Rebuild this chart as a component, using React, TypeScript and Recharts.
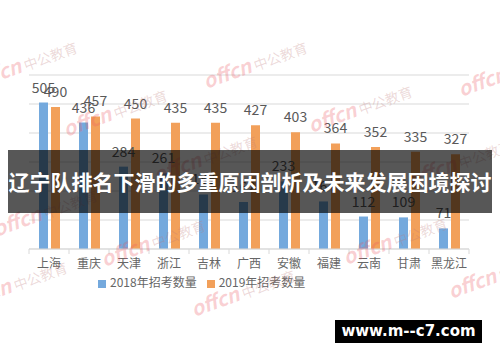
import {
  Bar,
  BarChart,
  CartesianGrid,
  LabelList,
  Legend,
  XAxis,
  YAxis,
} from "recharts";

const categories = ["上海", "重庆", "天津", "浙江", "吉林", "广西", "安徽", "福建", "云南", "甘肃", "黑龙江"];
const count2018 = [505, 436, 284, 261, 188, 162, 233, 164, 112, 109, 71];
const count2019 = [490, 457, 450, 435, 435, 427, 403, 364, 352, 335, 327];
const yTicks = [0, 100, 200, 300, 400, 500, 600];

const seriesNames = ["2018年招考数量", "2019年招考数量"];
const title = "辽宁队排名下滑的多重原因剖析及未来发展困境探讨";

const data = categories.map((name, i) => ({
  name,
  y2018: count2018[i],
  y2019: count2019[i],
}));

const FONT = '"Noto Sans CJK SC", "Liberation Sans", sans-serif';

// watermark spots (decorative)
const marks = [
  { left: -30, top: 48 },
  { left: 60, top: 96 },
  { left: 200, top: 48 },
  { left: 305, top: 92 },
  { left: 455, top: 56 },
  { left: 150, top: 142 },
  { left: 405, top: 146 },
  { left: -10, top: 196 },
  { left: 98, top: 226 },
  { left: 340, top: 224 },
  { left: 188, top: 276 },
  { left: 445, top: 258 },
  { left: -40, top: 268 },
];

function CategoryTick(props: any) {
  const { x, y, payload, index } = props;
  const half = payload.offset ?? 0;
  const axisY = y - 10;
  return (
    <g>
      <line x1={x - half} x2={x - half} y1={axisY} y2={axisY + 5} stroke="#d9d9d9" />
      {index === categories.length - 1 && (
        <line x1={x + half} x2={x + half} y1={axisY} y2={axisY + 5} stroke="#d9d9d9" />
      )}
      <text x={x} y={y} dy="0.71em" textAnchor="middle" fontSize={12} fill="#666" fontFamily={FONT}>
        {payload.value}
      </text>
    </g>
  );
}

export default function App() {
  return (
    <div
      style={{
        position: "absolute",
        left: 0,
        top: 0,
        width: 500,
        height: 362,
        background: "#fff",
        overflow: "hidden",
        fontFamily: FONT,
      }}
    >
      <BarChart
        width={500}
        height={362}
        data={data}
        margin={{ top: 75, right: 31, left: 29, bottom: 72 }}
        barSize={9}
        barGap={3}
      >
        <CartesianGrid horizontal vertical={false} stroke="#d9d9d9" />
        <YAxis hide domain={[0, 600]} ticks={yTicks} />
        <XAxis
          dataKey="name"
          height={24}
          axisLine={{ stroke: "#d9d9d9" }}
          tickLine={false}
          tickSize={0}
          tickMargin={10}
          interval={0}
          tick={<CategoryTick />}
        />
        <Legend
          verticalAlign="bottom"
          align="left"
          iconType="square"
          iconSize={8}
          wrapperStyle={{ left: 98, fontSize: 12, fontFamily: FONT }}
          formatter={(value) => <span style={{ color: "#666" }}>{value}</span>}
        />
        <Bar dataKey="y2018" name={seriesNames[0]} fill="#74a9dd" isAnimationActive={false}>
          <LabelList dataKey="y2018" position="top" offset={10} fontSize={14} fill="#595959" fontFamily={FONT} />
        </Bar>
        <Bar dataKey="y2019" name={seriesNames[1]} fill="#f2a05a" isAnimationActive={false}>
          <LabelList dataKey="y2019" position="top" offset={10} fontSize={14} fill="#595959" fontFamily={FONT} />
        </Bar>
      </BarChart>

      {marks.map((m, i) => (
        <div
          key={i}
          style={{
            position: "absolute",
            left: m.left,
            top: m.top,
            transform: "rotate(-20deg)",
            whiteSpace: "nowrap",
            pointerEvents: "none",
          }}
        >
          <span style={{ color: "rgba(235,90,100,0.28)", fontSize: 20, fontWeight: 700, fontStyle: "italic" }}>
            offcn
          </span>
          <span style={{ color: "rgba(190,120,120,0.28)", fontSize: 14, marginLeft: 3 }}>中公教育</span>
        </div>
      ))}

      <div
        style={{
          position: "absolute",
          left: 8,
          top: 150,
          width: 484,
          height: 63,
          background: "rgba(0,0,0,0.66)",
          color: "#fff",
          fontSize: 21,
          fontWeight: 700,
          lineHeight: "63px",
          textAlign: "center",
          whiteSpace: "nowrap",
        }}
      >
        {title}
      </div>

      <div
        style={{
          position: "absolute",
          left: 335,
          top: 320,
          width: 147,
          height: 23,
          background: "#000",
          color: "#fff",
          fontSize: 15,
          fontWeight: 700,
          lineHeight: "23px",
          textAlign: "center",
          fontFamily: '"DejaVu Sans", sans-serif',
        }}
      >
        www.m--c7.com
      </div>
    </div>
  );
}
